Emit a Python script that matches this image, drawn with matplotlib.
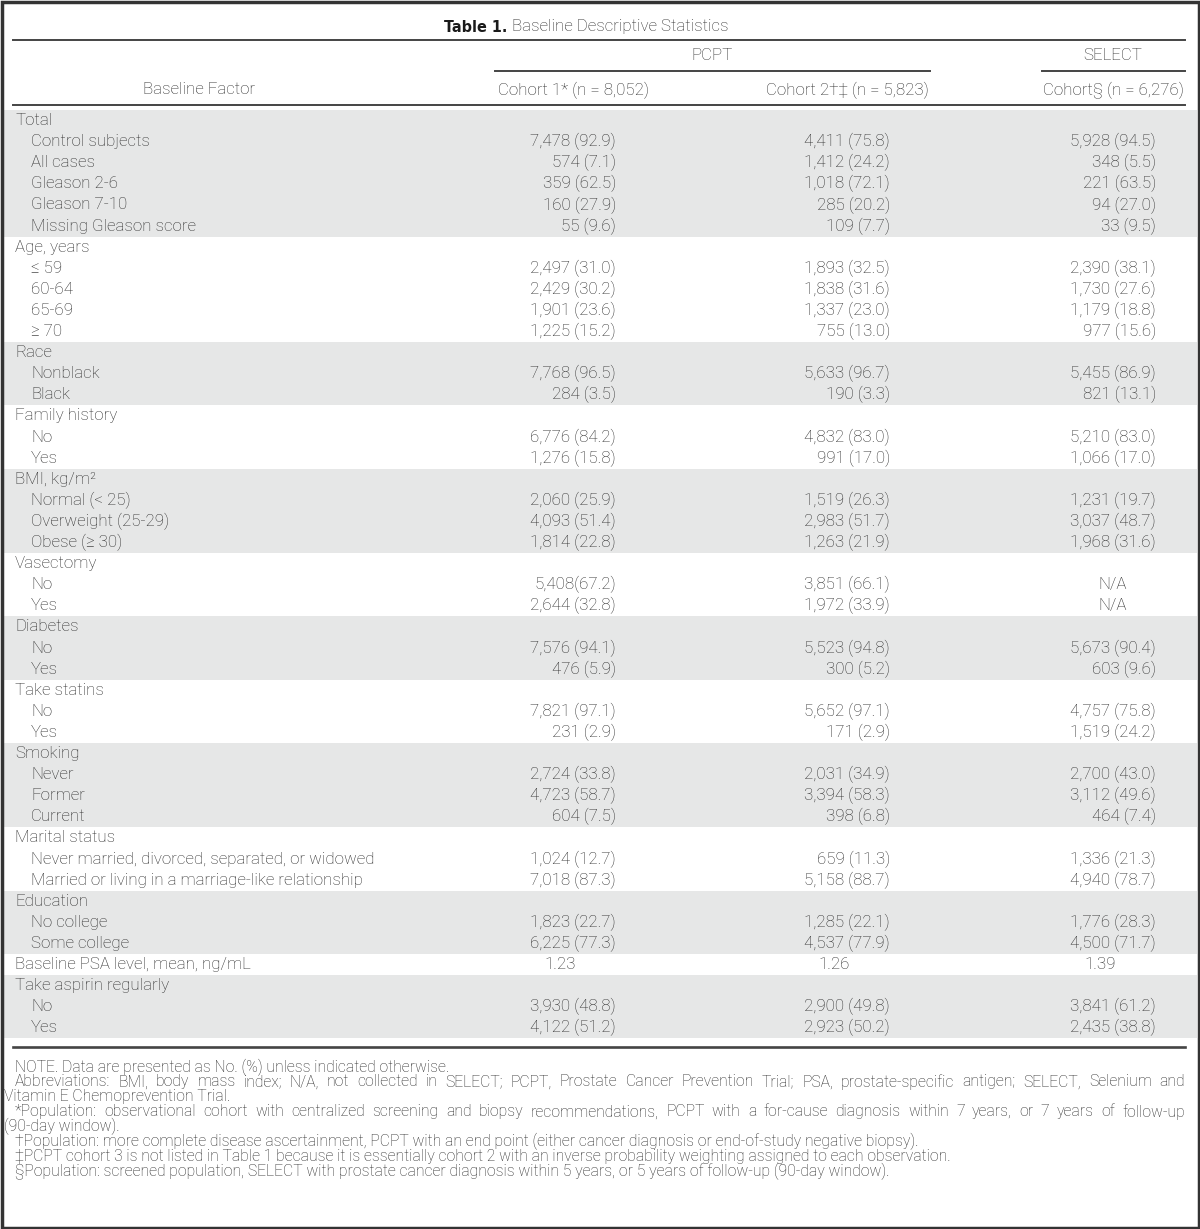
import matplotlib
matplotlib.use("Agg")
import matplotlib.pyplot as plt
from matplotlib.patches import Rectangle

# ---- table content ----
title_bold = "Table 1."
title_rest = "Baseline Descriptive Statistics"
col_headers = ["Cohort 1* (n = 8,052)", "Cohort 2\u2020\u2021 (n = 5,823)", "Cohort\u00a7 (n = 6,276)"]
span_headers = ["PCPT", "SELECT"]

groups = ["Total", "Age, years", "Race", "Family history", "BMI, kg/m\u00b2", "Vasectomy",
          "Diabetes", "Take statins", "Smoking", "Marital status", "Education",
          "Baseline PSA level, mean, ng/mL", "Take aspirin regularly"]
sub_rows = [
    ["Control subjects", "All cases", "Gleason 2-6", "Gleason 7-10", "Missing Gleason score"],
    ["\u2264 59", "60-64", "65-69", "\u2265 70"],
    ["Nonblack", "Black"],
    ["No", "Yes"],
    ["Normal (< 25)", "Overweight (25-29)", "Obese (\u2265 30)"],
    ["No", "Yes"],
    ["No", "Yes"],
    ["No", "Yes"],
    ["Never", "Former", "Current"],
    ["Never married, divorced, separated, or widowed", "Married or living in a marriage-like relationship"],
    ["No college", "Some college"],
    [],
    ["No", "Yes"],
]
cohort1 = ["7,478 (92.9)", "574 (7.1)", "359 (62.5)", "160 (27.9)", "55 (9.6)",
           "2,497 (31.0)", "2,429 (30.2)", "1,901 (23.6)", "1,225 (15.2)",
           "7,768 (96.5)", "284 (3.5)",
           "6,776 (84.2)", "1,276 (15.8)",
           "2,060 (25.9)", "4,093 (51.4)", "1,814 (22.8)",
           "5,408(67.2)", "2,644 (32.8)",
           "7,576 (94.1)", "476 (5.9)",
           "7,821 (97.1)", "231 (2.9)",
           "2,724 (33.8)", "4,723 (58.7)", "604 (7.5)",
           "1,024 (12.7)", "7,018 (87.3)",
           "1,823 (22.7)", "6,225 (77.3)",
           "1.23",
           "3,930 (48.8)", "4,122 (51.2)"]
cohort2 = ["4,411 (75.8)", "1,412 (24.2)", "1,018 (72.1)", "285 (20.2)", "109 (7.7)",
           "1,893 (32.5)", "1,838 (31.6)", "1,337 (23.0)", "755 (13.0)",
           "5,633 (96.7)", "190 (3.3)",
           "4,832 (83.0)", "991 (17.0)",
           "1,519 (26.3)", "2,983 (51.7)", "1,263 (21.9)",
           "3,851 (66.1)", "1,972 (33.9)",
           "5,523 (94.8)", "300 (5.2)",
           "5,652 (97.1)", "171 (2.9)",
           "2,031 (34.9)", "3,394 (58.3)", "398 (6.8)",
           "659 (11.3)", "5,158 (88.7)",
           "1,285 (22.1)", "4,537 (77.9)",
           "1.26",
           "2,900 (49.8)", "2,923 (50.2)"]
select_c = ["5,928 (94.5)", "348 (5.5)", "221 (63.5)", "94 (27.0)", "33 (9.5)",
            "2,390 (38.1)", "1,730 (27.6)", "1,179 (18.8)", "977 (15.6)",
            "5,455 (86.9)", "821 (13.1)",
            "5,210 (83.0)", "1,066 (17.0)",
            "1,231 (19.7)", "3,037 (48.7)", "1,968 (31.6)",
            "N/A", "N/A",
            "5,673 (90.4)", "603 (9.6)",
            "4,757 (75.8)", "1,519 (24.2)",
            "2,700 (43.0)", "3,112 (49.6)", "464 (7.4)",
            "1,336 (21.3)", "4,940 (78.7)",
            "1,776 (28.3)", "4,500 (71.7)",
            "1.39",
            "3,841 (61.2)", "2,435 (38.8)"]

# (text, first line of paragraph?, justified?)
footnotes = [
    ("NOTE. Data are presented as No. (%) unless indicated otherwise.", True, False),
    ("Abbreviations: BMI, body mass index; N/A, not collected in SELECT; PCPT, Prostate Cancer Prevention Trial; PSA, prostate-specific antigen; SELECT, Selenium and", True, True),
    ("Vitamin E Chemoprevention Trial.", False, False),
    ("*Population: observational cohort with centralized screening and biopsy recommendations, PCPT with a for-cause diagnosis within 7 years, or 7 years of follow-up", True, True),
    ("(90-day window).", False, False),
    ("\u2020Population: more complete disease ascertainment, PCPT with an end point (either cancer diagnosis or end-of-study negative biopsy).", True, False),
    ("\u2021PCPT cohort 3 is not listed in Table 1 because it is essentially cohort 2 with an inverse probability weighting assigned to each observation.", True, False),
    ("\u00a7Population: screened population, SELECT with prostate cancer diagnosis within 5 years, or 5 years of follow-up (90-day window).", True, False),
]

# ---- style ----
W, H = 1200, 1229
FAM = ["Roboto", "DejaVu Sans"]
TXT = "#2b2b2b"
SHADE = "#e6e7e7"
FS = 12.2
FS_NOTE = 11.3

fig = plt.figure(figsize=(W / 100, H / 100), dpi=100)
ax = fig.add_axes([0, 0, 1, 1])
ax.set_xlim(0, W)
ax.set_ylim(H, 0)
ax.axis("off")
renderer = fig.canvas.get_renderer()

x_left, x_right = 13, 1185
col_right = [616, 890, 1156]
col_center = [573, 847, 1113]

def txt(x, y, s, ha="left", size=FS, **kw):
    return ax.text(x, y, s, ha=ha, va="center", fontsize=size, color=TXT,
                   family=FAM, fontweight="light", **kw)

# title
ax.text(507, 27, title_bold, ha="right", va="center", fontsize=11.5,
        color="#1a1a1a", family="DejaVu Sans", fontstretch="condensed", fontweight="bold")
txt(512, 27, title_rest)

ax.plot([x_left, x_right], [40, 40], color="#444444", lw=1.4)
txt(712, 56, span_headers[0], ha="center")
txt(1113, 56, span_headers[1], ha="center")
ax.plot([495, 930], [71, 71], color="#444444", lw=1.4)
ax.plot([1042, x_right], [71, 71], color="#444444", lw=1.4)
txt(199, 90, "Baseline Factor", ha="center")
for c, h in zip(col_center, col_headers):
    txt(c, 90, h, ha="center")
ax.plot([x_left, x_right], [104.5, 104.5], color="#444444", lw=1.4)

# body
top = 110
rh = 21.1
row = 0
k = 0
for gi, (g, subs) in enumerate(zip(groups, sub_rows)):
    n = 1 + len(subs)
    if gi % 2 == 0:
        ax.add_patch(Rectangle((3, top + row * rh), W - 6, n * rh, color=SHADE, lw=0, zorder=0))
    y = top + (row + 0.5) * rh
    txt(15, y, g)
    if not subs:
        for ci, vals in enumerate([cohort1, cohort2, select_c]):
            txt(col_right[ci] - 40, y, vals[k], ha="right")
        k += 1
    row += 1
    for s in subs:
        y = top + (row + 0.5) * rh
        txt(31, y, s)
        for ci, vals in enumerate([cohort1, cohort2, select_c]):
            v = vals[k]
            if v == "N/A":
                txt(col_center[ci], y, v, ha="center")
            else:
                txt(col_right[ci], y, v, ha="right")
        k += 1
        row += 1

ax.plot([x_left, x_right], [1047, 1047], color="#444444", lw=1.9)

# footnotes (wrapped lines are justified to the table width)
for i, (s, first, just) in enumerate(footnotes):
    y = 1067 + i * 14.9
    x0 = 15 if first else 4
    if not just:
        txt(x0, y, s, size=FS_NOTE)
        continue
    words = s.split(" ")
    arts = [txt(0, y, w, size=FS_NOTE) for w in words]
    widths = [a.get_window_extent(renderer).width for a in arts]
    gap = (x_right - x0 - sum(widths)) / (len(words) - 1)
    x = x0
    for a, wd in zip(arts, widths):
        a.set_x(x)
        x += wd + gap

# frame
ax.add_patch(Rectangle((1.5, 1.5), W - 3, H - 3, fill=False, ec="#333333", lw=2.5))

fig.savefig("out.png", dpi=100, facecolor="white")
